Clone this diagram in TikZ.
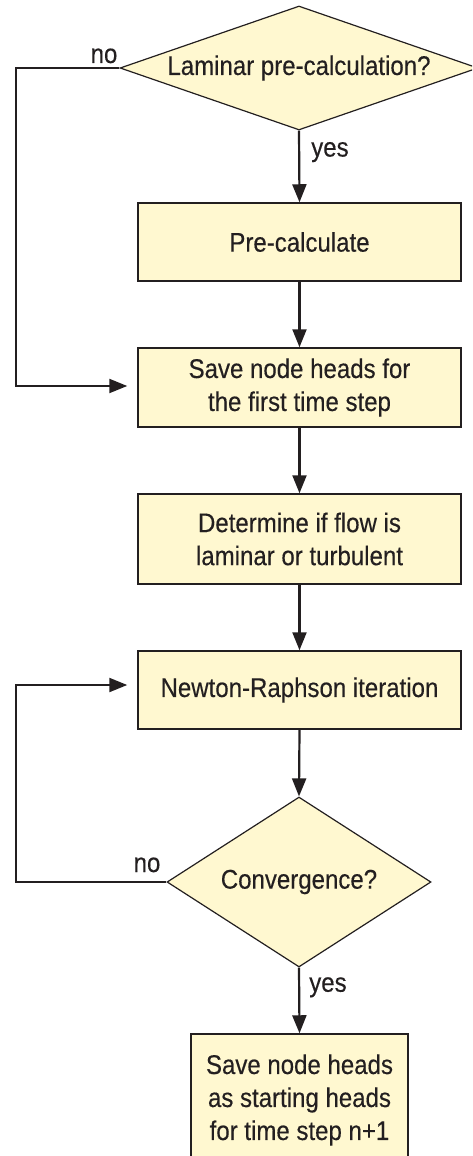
\documentclass[tikz,border=0pt]{standalone}
\usepackage{fontspec}
\setmainfont{Liberation Sans}[FakeStretch=0.89,FakeBold=0.3]
\usetikzlibrary{shapes.geometric,arrows.meta}
\definecolor{boxfill}{RGB}{255,248,208}
\definecolor{ink}{RGB}{35,31,32}
\tikzset{
  base/.style={font=\fontsize{27}{33}\selectfont, text=ink},
  stepbox/.style={base, draw=ink, fill=boxfill, line width=1.5pt, rectangle, inner sep=0pt, align=center, minimum width=323pt},
  decision/.style={base, draw=ink, fill=boxfill, line width=1.2pt, diamond, inner sep=0pt, align=center},
  flow/.style={draw=ink, line width=2.2pt, -{Triangle[length=18pt,width=14pt]}},
  lbl/.style={base, inner sep=0pt}
}
\begin{document}
\begin{tikzpicture}[x=1pt,y=-1pt]
\useasboundingbox (0,0) rectangle (472,1156);
\clip (0,0) rectangle (472,1156);
\node[decision, aspect=2.887, minimum width=358pt, minimum height=124pt] (d1) at (299,68) {Laminar pre-calculation?};
\node[stepbox, minimum height=78pt] (b1) at (299.5,242) {Pre-calculate};
\node[stepbox, minimum height=79pt] (b2) at (299.5,387.5) {Save node heads for\\the first time step};
\node[stepbox, minimum height=90pt] (b3) at (299.5,539) {Determine if flow is\\laminar or turbulent};
\node[stepbox, minimum height=78pt] (b4) at (299.5,690) {Newton-Raphson iteration};
\node[decision, aspect=1.553, minimum width=264pt, minimum height=170pt] (d2) at (299,882) {Convergence?};
\node[stepbox, minimum width=217pt, minimum height=132pt] (b5) at (299.5,1100) {Save node heads\\as starting heads\\for time step n+1};

\coordinate (t2) at ([xshift=-10pt,yshift=1.5pt]b2.west);
\coordinate (t4) at ([xshift=-10pt,yshift=5pt]b4.west);
\coordinate (c1) at (16,68);
\coordinate (c2) at (16,882);

\draw[flow] (d1.south) -- (b1.north) node[pos=0.3, right=11pt, lbl] (y1) {yes};
\draw[flow] (b1.south) -- (b2.north);
\draw[flow] (b2.south) -- (b3.north);
\draw[flow] (b3.south) -- (b4.north);
\draw[flow] (b4.south) -- (d2.north);
\draw[flow] (d2.south) -- (b5.north) node[pos=0.3, right=9pt, lbl] (y2) {yes};
\draw[flow] (d1.west) -- (c1) |- (t2);
\draw[flow] (d2.west) -- (c2) |- (t4);
\node[lbl, anchor=base] (n1) at (104,63) {no};
\node[lbl, anchor=base] (n2) at (147,872) {no};
\end{tikzpicture}
\end{document}
